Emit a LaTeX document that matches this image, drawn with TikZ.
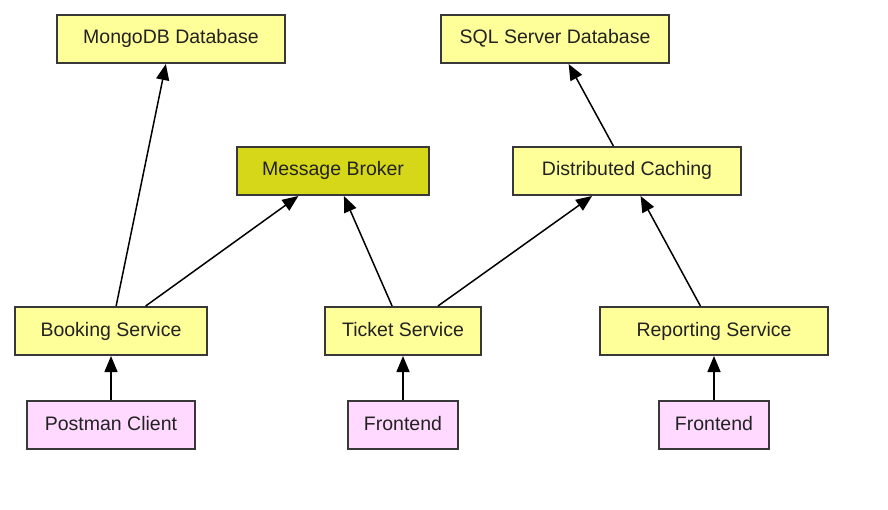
\documentclass[tikz,border=0pt]{standalone}
\usepackage{fontspec}
\setmainfont{Liberation Sans}
\usepackage{xcolor}
\definecolor{boxyellow}{HTML}{FFFF99}
\definecolor{brokeryellow}{HTML}{D7D71A}
\definecolor{clientpink}{HTML}{FFD9FF}
\definecolor{edgegray}{HTML}{383838}
\definecolor{textgray}{HTML}{222222}
\usetikzlibrary{arrows.meta}

\begin{document}
\begin{tikzpicture}[x=1pt,y=-1pt,
  box/.style={draw=edgegray, line width=2pt, minimum height=48pt, inner sep=0pt,
    text height=14pt, text depth=4pt,
    text=textgray, font=\fontsize{19.5}{23}\selectfont},
  svc/.style={box, fill=boxyellow},
  client/.style={box, fill=clientpink},
  link/.style={-{Triangle[length=16pt,width=13pt]}, line width=1.5pt}]
\useasboundingbox (0,0) rectangle (888,510);
% storage
\node[svc, minimum width=228pt] (mongo) at (171,39) {MongoDB Database};
\node[svc, minimum width=228pt] (sql) at (555,39) {SQL Server Database};
% middle tier
\node[box, fill=brokeryellow, minimum width=192pt] (broker) at (333,171) {Message Broker};
\node[svc, minimum width=228pt] (cache) at (627,171) {Distributed Caching};
% services
\node[svc, minimum width=192pt] (booking) at (111,331) {Booking Service};
\node[svc, minimum width=156pt] (ticket) at (403,331) {Ticket Service};
\node[svc, minimum width=228pt] (reporting) at (714,331) {Reporting Service};
% clients
\node[client, minimum width=168pt] (postman) at (111,425) {Postman Client};
\node[client, minimum width=110pt] (front1) at (403,425) {Frontend};
\node[client, minimum width=110pt] (front2) at (714,425) {Frontend};
\draw[link] (booking) -- (mongo);
\draw[link] (booking) -- (broker);
\draw[link] (ticket) -- (broker);
\draw[link] (ticket) -- (cache);
\draw[link] (reporting) -- (cache);
\draw[link] (cache) -- (sql);
\draw[link] (postman) -- (booking);
\draw[link] (front1) -- (ticket);
\draw[link] (front2) -- (reporting);
\end{tikzpicture}
\end{document}
